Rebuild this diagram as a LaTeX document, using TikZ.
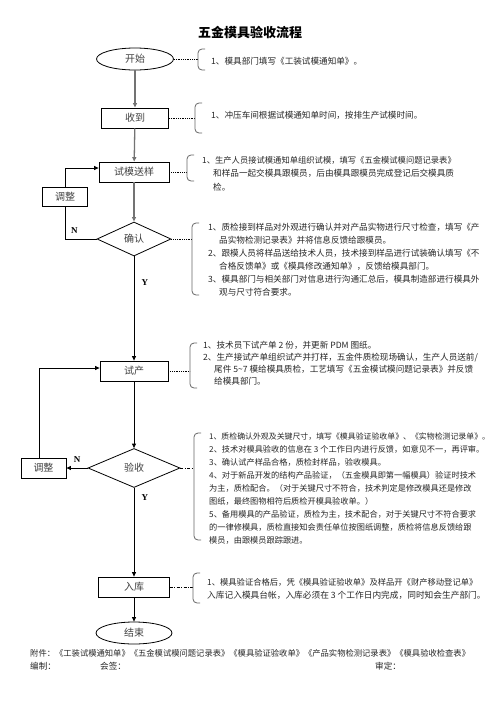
\documentclass[tikz,border=0pt]{standalone}
\usepackage{fontspec}
\setmainfont{Liberation Serif}
\newfontfamily\cjk{Noto Sans CJK SC}
\usetikzlibrary{shapes.geometric, arrows.meta}

\tikzset{
  box/.style={draw, line width=0.8pt, minimum width=70, minimum height=20, inner sep=0pt, text=black!75, font=\cjk\fontsize{10}{12}\selectfont},
  oval/.style={ellipse, draw, line width=0.8pt, minimum width=77, minimum height=22, inner sep=0pt, text=black!75, font=\cjk\fontsize{10}{12}\selectfont},
  check/.style={diamond, draw, line width=0.8pt, aspect=2, inner sep=0pt, text=black!75, font=\cjk\fontsize{10}{12}\selectfont},
  note/.style={anchor=north west, inner sep=0pt, align=left, text=black!85, font=\cjk\fontsize{8.6}{13}\selectfont},
  flow/.style={line width=0.8pt, -{Triangle[length=4.5pt,width=4pt]}},
  grayflow/.style={flow, draw=black!55, line width=1.3pt},
  dotline/.style={line width=0.8pt, densely dotted},
  dashdotline/.style={line width=0.8pt, dash pattern=on 3pt off 1.5pt on 0.8pt off 1.5pt},
  hook/.style={draw=black!60, line width=0.8pt, rounded corners=4pt},
  yn/.style={font=\bfseries\fontsize{9}{10}\selectfont}
}

\begin{document}
\begin{tikzpicture}[x=1pt, y=-1pt]
        \useasboundingbox (0,0) rectangle (496,702);
        % Title
        \node[font=\cjk\bfseries\fontsize{13}{15}\selectfont] (title) at (250,32) {五金模具验收流程};
        % Steps
        \node[oval] (start) at (135,59) {开始};
        \node[box, minimum width=67] (recv) at (135,118) {收到};
        \node[box] (sample) at (134,172) {试模送样};
        \node[box, minimum width=45, minimum height=19] (adj1) at (65,197) {调整};
        \node[check, minimum width=74, minimum height=34] (confirm) at (134,239) {确认};
        \node[box, minimum width=68] (trial) at (134,371) {试产};
        \node[box, minimum width=45] (adj2) at (43.5,468) {调整};
        \node[check, minimum width=92, minimum height=39] (accept) at (134,468) {验收};
        \node[box, minimum width=71] (stock) at (134,587) {入库};
        \node[oval, minimum width=76] (finish) at (134,633) {结束};
        % Flow
        \draw[grayflow] (start) -- (recv);
        \draw[grayflow] (recv) -- (sample);
        \draw[grayflow] (sample) -- (confirm);
        \draw[flow] (confirm) -- node[yn, pos=0.25, right=4pt] {Y} (trial);
        \draw[flow] (trial) -- (accept);
        \draw[flow] (accept) -- node[yn, pos=0.11, right=4pt] {Y} (stock);
        \draw[flow] (stock) -- (finish);
        \draw[line width=0.8pt] (confirm.west) -| node[yn, pos=0.35, above=2pt] {N} (adj1.south);
        \draw[flow] (adj1.north) |- ([yshift=4pt]sample.west);
        \draw[flow] (accept.west) -- node[yn, above=2pt] {N} (adj2.east);
        \draw[flow] ([xshift=-4.5pt]adj2.north) |- ([yshift=3pt]trial.west);
        % Notes
        \coordinate (b1) at (198,59);
        \coordinate (b2) at (195,118);
        \coordinate (b3) at (187,172);
        \coordinate (b4) at (192,239);
        \coordinate (b5) at (190,371);
        \coordinate (b6) at (194,468);
        \coordinate (b7) at (193,587);
        \draw[dotline] (start) -- (b1);
        \draw[dotline] (recv) -- (b2);
        \draw[dotline] (sample) -- (b3);
        \draw[dotline] (confirm) -- (b4);
        \draw[dotline] (trial) -- (b5);
        \draw[dashdotline] (accept) -- (b6);
        \draw[dashdotline] (stock) -- (b7);
        \foreach \x/\t/\b in {198/49/70, 195/103/133, 187/155/181, 192/223/295, 190/343/388, 194/433/540, 193/573/603}
            \draw[hook] (\x+7,\t) -- (\x,\t) -- (\x,\b) -- (\x+7,\b);
        \node[note] (n1) at (211,57) {1、模具部门填写《工装试模通知单》。};
        \node[note] (n2) at (211,111) {1、冲压车间根据试模通知单时间，按排生产试模时间。};
        \node[note, font=\cjk\fontsize{8.6}{13.5}\selectfont] (n3) at (202,156) {{\fontsize{8.3}{13.5}\selectfont 1、生产人员接试模通知单组织试模，填写《五金模试模问题记录表》}\\
            \hspace*{11pt}和样品一起交模具跟模员，后由模具跟模员完成登记后交模具质\\
            \hspace*{11pt}检。};
        \node[note] (n4) at (208,223) {1、质检接到样品对外观进行确认并对产品实物进行尺寸检查，填写《产\\
            \hspace*{11pt}品实物检测记录表》并将信息反馈给跟模员。\\
            2、跟模人员将样品送给技术人员，技术接到样品进行试装确认填写《不\\
            \hspace*{11pt}合格反馈单》或《模具修改通知单》，反馈给模具部门。\\
            3、模具部门与相关部门对信息进行沟通汇总后，模具制造部进行模具外\\
            \hspace*{11pt}观与尺寸符合要求。};
        \node[note, font=\cjk\fontsize{8.6}{12}\selectfont] (n5) at (203,341) {1、技术员下试产单 2 份，并更新 PDM 图纸。\\
            2、生产接试产单组织试产并打样，五金件质检现场确认，生产人员送前/\\
            \hspace*{11pt}尾件 5\textasciitilde7 模给模具质检，工艺填写《五金模试模问题记录表》并反馈\\
            \hspace*{11pt}给模具部门。};
        \node[note, font=\cjk\fontsize{8.2}{13}\selectfont] (n6) at (209,433) {{\fontsize{7.9}{13}\selectfont 1、质检确认外观及关键尺寸，填写《模具验证验收单》、《实物检测记录单》。}\\
            2、技术对模具验收的信息在 3 个工作日内进行反馈，如意见不一，再评审。\\
            3、确认试产样品合格，质检封样品，验收模具。\\
            4、对于新品开发的结构产品验证，（五金模具即第一幅模具）验证时技术\\
            为主，质检配合。（对于关键尺寸不符合，技术判定是修改模具还是修改\\
            图纸，最终图物相符后质检开模具验收单。）\\
            5、备用模具的产品验证，质检为主，技术配合，对于关键尺寸不符合要求\\
            的一律修模具，质检直接知会责任单位按图纸调整，质检将信息反馈给跟\\
            模员，由跟模员跟踪跟进。};
        \node[note, font=\cjk\fontsize{8.7}{13}\selectfont] (n7) at (207,578) {{\fontsize{8.3}{13}\selectfont 1、模具验证合格后，凭《模具验证验收单》及样品开《财产移动登记单》}\\
            入库记入模具台帐，入库必须在 3 个工作日内完成，同时知会生产部门。};
        % Footer
        \node[note, anchor=west, font=\cjk\fontsize{8.3}{10}\selectfont] (attach) at (30,653) {附件：《工装试模通知单》《五金模试模问题记录表》《模具验证验收单》《产品实物检测记录表》《模具验收检查表》};
        \node[note, anchor=west] (edit) at (30,666) {编制：};
        \node[note, anchor=west] (sign) at (100,666) {会签：};
        \node[note, anchor=west] (approve) at (375,666) {审定：};
    \end{tikzpicture}
\end{document}
